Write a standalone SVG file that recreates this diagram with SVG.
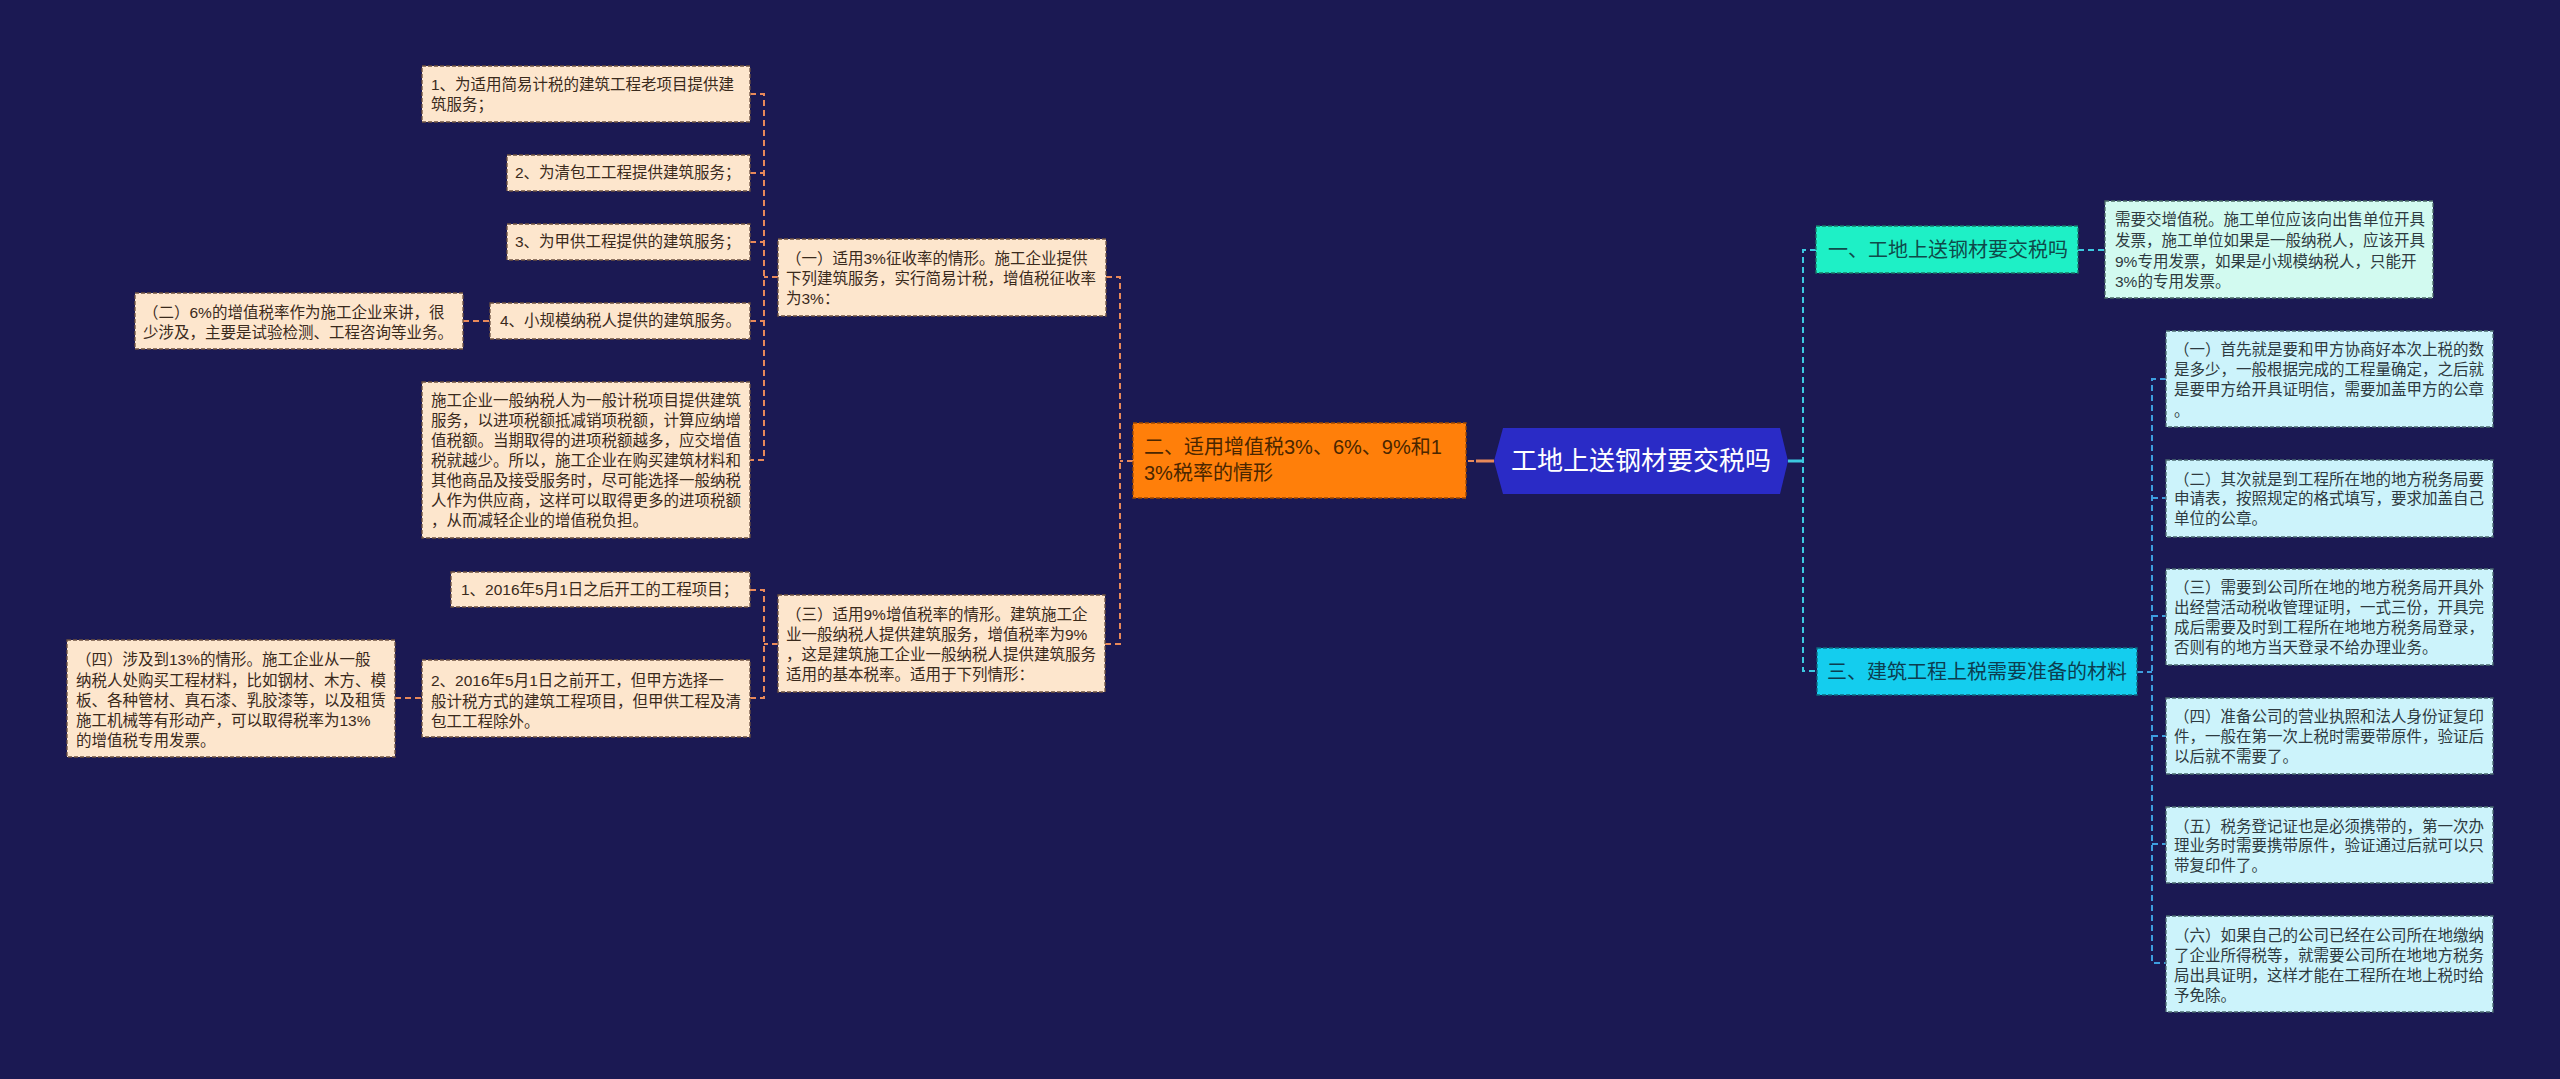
<svg xmlns="http://www.w3.org/2000/svg" width="2560" height="1079" viewBox="0 0 2560 1079">
<style>
text{font-family:"Liberation Sans","Noto Sans CJK SC",sans-serif;}
.t{font-size:15.5px;fill:#3a2a1c;}
.tr{font-size:15.5px;fill:#2e3a40;}
.peach{fill:#fde6cd;stroke:#6e5240;stroke-width:1.3;stroke-dasharray:4 2;}
.mint{fill:#d2faf0;stroke:#4a6a66;stroke-width:1.3;stroke-dasharray:4 2;}
.ice{fill:#ccf3fb;stroke:#4a6a70;stroke-width:1.3;stroke-dasharray:4 2;}
.cL{fill:none;stroke:#e8895a;stroke-width:2;stroke-dasharray:6 4;}
.cR{fill:none;stroke:#3cc8e0;stroke-width:2;stroke-dasharray:6 4;}
.cB{fill:none;stroke:#3d9ee0;stroke-width:2;stroke-dasharray:6 4;}
</style>
<rect width="2560" height="1079" fill="#1b1953"/>
<g id="connectors">
  <path class="cL" d="M1494 461 H1466"/>
  <path d="M1494 461 H1476" stroke="#e8895a" stroke-width="3" fill="none"/>
  <path class="cL" d="M1133 461 H1120 M1106 277 H1120 V644 H1105"/>
  <path class="cL" d="M778 277 H764 M750 94 H764 V460 H750 M750 173 H764 M750 242 H764 M750 321 H764"/>
  <path class="cL" d="M463 321 H490"/>
  <path class="cL" d="M778 644 H764 M750 590 H764 V698 H750"/>
  <path class="cL" d="M395 698 H422"/>
  <path d="M1788 461 H1803" stroke="#3cc8e0" stroke-width="3" fill="none"/>
  <path class="cR" d="M1816 250 H1803 V671 H1817"/>
  <path class="cR" d="M2078 250 H2105"/>
  <path class="cB" d="M2137 672 H2152 M2166 379 H2152 V963 H2166 M2152 498 H2166 M2152 616 H2166 M2152 736 H2166 M2152 844 H2166"/>
</g>
<g id="center">
  <polygon points="1494,461 1503,428 1780,428 1788,461 1780,494 1503,494" fill="#2a2bc6"/>
  <text x="1641" y="470" text-anchor="middle" font-size="26" fill="#ffffff">工地上送钢材要交税吗</text>
</g>
<g id="n2">
  <rect x="1133" y="423" width="333" height="75" fill="#ff7f0a" stroke="#a04a00" stroke-width="1.3" stroke-dasharray="4 2"/>
  <text font-size="20" fill="#4a2600"><tspan x="1144" y="454">二、适用增值税3%、6%、9%和1</tspan><tspan x="1144" y="480">3%税率的情形</tspan></text>
</g>
<g id="n2-1">
  <rect class="peach" x="778" y="239" width="328" height="77"/>
  <text class="t"><tspan x="786" y="264">（一）适用3%征收率的情形。施工企业提供</tspan><tspan x="786" y="284">下列建筑服务，实行简易计税，增值税征收率</tspan><tspan x="786" y="304">为3%：</tspan></text>
</g>
<g id="n2-1-1">
  <rect class="peach" x="422" y="66" width="328" height="56"/>
  <text class="t"><tspan x="431" y="90">1、为适用简易计税的建筑工程老项目提供建</tspan><tspan x="431" y="110">筑服务；</tspan></text>
</g>
<g id="n2-1-2">
  <rect class="peach" x="507" y="155" width="243" height="36"/>
  <text class="t" x="515" y="178">2、为清包工工程提供建筑服务；</text>
</g>
<g id="n2-1-3">
  <rect class="peach" x="507" y="224" width="243" height="36"/>
  <text class="t" x="515" y="247">3、为甲供工程提供的建筑服务；</text>
</g>
<g id="n2-1-4">
  <rect class="peach" x="490" y="303" width="260" height="36"/>
  <text class="t" x="500" y="326">4、小规模纳税人提供的建筑服务。</text>
</g>
<g id="n2-1-4-1">
  <rect class="peach" x="135" y="293" width="328" height="56"/>
  <text class="t"><tspan x="143" y="318">（二）6%的增值税率作为施工企业来讲，很</tspan><tspan x="143" y="338">少涉及，主要是试验检测、工程咨询等业务。</tspan></text>
</g>
<g id="n2-1-5">
  <rect class="peach" x="422" y="382" width="328" height="156"/>
  <text class="t"><tspan x="431" y="406">施工企业一般纳税人为一般计税项目提供建筑</tspan><tspan x="431" y="426">服务，以进项税额抵减销项税额，计算应纳增</tspan><tspan x="431" y="446">值税额。当期取得的进项税额越多，应交增值</tspan><tspan x="431" y="466">税就越少。所以，施工企业在购买建筑材料和</tspan><tspan x="431" y="486">其他商品及接受服务时，尽可能选择一般纳税</tspan><tspan x="431" y="506">人作为供应商，这样可以取得更多的进项税额</tspan><tspan x="431" y="526">，从而减轻企业的增值税负担。</tspan></text>
</g>
<g id="n2-3">
  <rect class="peach" x="778" y="595" width="327" height="97"/>
  <text class="t"><tspan x="786" y="620">（三）适用9%增值税率的情形。建筑施工企</tspan><tspan x="786" y="640">业一般纳税人提供建筑服务，增值税率为9%</tspan><tspan x="786" y="660">，这是建筑施工企业一般纳税人提供建筑服务</tspan><tspan x="786" y="680">适用的基本税率。适用于下列情形：</tspan></text>
</g>
<g id="n2-3-1">
  <rect class="peach" x="451" y="572" width="299" height="35"/>
  <text class="t" x="461" y="595">1、2016年5月1日之后开工的工程项目；</text>
</g>
<g id="n2-3-2">
  <rect class="peach" x="422" y="660" width="328" height="77"/>
  <text class="t"><tspan x="431" y="686">2、2016年5月1日之前开工，但甲方选择一</tspan><tspan x="431" y="707">般计税方式的建筑工程项目，但甲供工程及清</tspan><tspan x="431" y="727">包工工程除外。</tspan></text>
</g>
<g id="n2-3-2-1">
  <rect class="peach" x="67" y="640" width="328" height="117"/>
  <text class="t"><tspan x="76" y="665">（四）涉及到13%的情形。施工企业从一般</tspan><tspan x="76" y="686">纳税人处购买工程材料，比如钢材、木方、模</tspan><tspan x="76" y="706">板、各种管材、真石漆、乳胶漆等，以及租赁</tspan><tspan x="76" y="726">施工机械等有形动产，可以取得税率为13%</tspan><tspan x="76" y="746">的增值税专用发票。</tspan></text>
</g>
<g id="n1">
  <rect x="1816" y="226" width="262" height="47" fill="#1ef0c6" stroke="#1a7a6a" stroke-width="1.3" stroke-dasharray="4 2"/>
  <text x="1828" y="257" font-size="20" fill="#0f4a4a">一、工地上送钢材要交税吗</text>
</g>
<g id="n1-1">
  <rect class="mint" x="2105" y="201" width="328" height="97"/>
  <text class="tr"><tspan x="2115" y="225">需要交增值税。施工单位应该向出售单位开具</tspan><tspan x="2115" y="246">发票，施工单位如果是一般纳税人，应该开具</tspan><tspan x="2115" y="267">9%专用发票，如果是小规模纳税人，只能开</tspan><tspan x="2115" y="287">3%的专用发票。</tspan></text>
</g>
<g id="n3">
  <rect x="1817" y="648" width="320" height="47" fill="#14cdee" stroke="#0e6a80" stroke-width="1.3" stroke-dasharray="4 2"/>
  <text x="1827" y="679" font-size="20" fill="#0c3d50">三、建筑工程上税需要准备的材料</text>
</g>
<g id="n3-1">
  <rect class="ice" x="2166" y="331" width="327" height="96"/>
  <text class="tr"><tspan x="2174" y="355">（一）首先就是要和甲方协商好本次上税的数</tspan><tspan x="2174" y="375">是多少，一般根据完成的工程量确定，之后就</tspan><tspan x="2174" y="395">是要甲方给开具证明信，需要加盖甲方的公章</tspan><tspan x="2174" y="416">。</tspan></text>
</g>
<g id="n3-2">
  <rect class="ice" x="2166" y="460" width="327" height="77"/>
  <text class="tr"><tspan x="2174" y="485">（二）其次就是到工程所在地的地方税务局要</tspan><tspan x="2174" y="504">申请表，按照规定的格式填写，要求加盖自己</tspan><tspan x="2174" y="524">单位的公章。</tspan></text>
</g>
<g id="n3-3">
  <rect class="ice" x="2166" y="569" width="327" height="96"/>
  <text class="tr"><tspan x="2174" y="593">（三）需要到公司所在地的地方税务局开具外</tspan><tspan x="2174" y="613">出经营活动税收管理证明，一式三份，开具完</tspan><tspan x="2174" y="633">成后需要及时到工程所在地地方税务局登录，</tspan><tspan x="2174" y="653">否则有的地方当天登录不给办理业务。</tspan></text>
</g>
<g id="n3-4">
  <rect class="ice" x="2166" y="698" width="327" height="76"/>
  <text class="tr"><tspan x="2174" y="722">（四）准备公司的营业执照和法人身份证复印</tspan><tspan x="2174" y="742">件，一般在第一次上税时需要带原件，验证后</tspan><tspan x="2174" y="762">以后就不需要了。</tspan></text>
</g>
<g id="n3-5">
  <rect class="ice" x="2166" y="807" width="327" height="76"/>
  <text class="tr"><tspan x="2174" y="832">（五）税务登记证也是必须携带的，第一次办</tspan><tspan x="2174" y="851">理业务时需要携带原件，验证通过后就可以只</tspan><tspan x="2174" y="871">带复印件了。</tspan></text>
</g>
<g id="n3-6">
  <rect class="ice" x="2166" y="916" width="327" height="96"/>
  <text class="tr"><tspan x="2174" y="941">（六）如果自己的公司已经在公司所在地缴纳</tspan><tspan x="2174" y="961">了企业所得税等，就需要公司所在地地方税务</tspan><tspan x="2174" y="981">局出具证明，这样才能在工程所在地上税时给</tspan><tspan x="2174" y="1001">予免除。</tspan></text>
</g>
</svg>
